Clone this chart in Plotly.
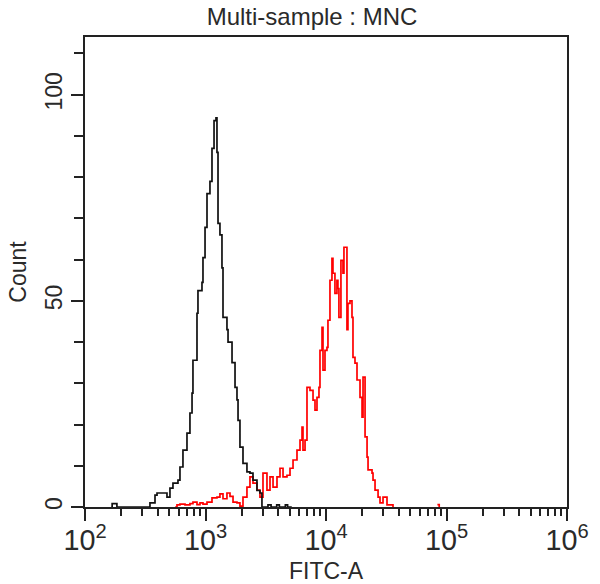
import plotly.graph_objects as go

# Black histogram (unstained / control)
black_x = [165, 168, 184, 330, 346, 381, 396, 461, 479, 507, 537, 591, 614, 650, 702, 743,
           773, 787, 850, 866, 935, 953, 991, 1029, 1089, 1132, 1177, 1222, 1245, 1270,
           1318, 1370, 1397, 1507, 1538, 1660, 1758, 1825, 1862, 1932, 2047, 2208, 2339,
           2478, 2674, 2831, 2941, 3300, 3500, 3900, 4100, 4600, 4800, 5200]
black_y = [0, 0.8, 0, 0, 1.0, 2.9, 3.4, 3.4, 2.4, 4.6, 5.8, 6.5, 9.7, 13.8, 17.9, 22.8,
           27.6, 35.6, 47, 52.5, 54.5, 60.5, 67.8, 76, 79, 87, 93.7, 94.4, 86, 68.8,
           66, 58, 46, 43, 40, 35, 29, 26, 21, 14.5, 10.6, 8.5, 8.2,
           6.5, 4, 3.4, 0, 0.5, 0, 0.5, 0, 0.5, 0, 0]

# Red histogram (stained sample); None marks a gap with no events
red_x = [560, 580, 614, 676, 743, 787, 850, 900, 953, 1029, 1132, 1245, 1318, 1397, 1507,
         1597, 1692, 1825, 1932, 2047, 2208, 2339, 2478, 2674, 2831, 3000, 3237, 3430,
         3634, 3920, 4152, 4399, 4745, 5027, 5326, 5745, 6086, 6324, 6442, 6698, 6954,
         7365, 7803, 8105, 8418, 8743, 8913, 9268, 9442, 9808, 10188, 10382, 10789, 11207,
         11422, 11865, 12325, 12561, 12801, 13303, 13833, 14092, 14646, 14927, 15212,
         15819, 16432, 16747, 17400, 18082, 19155, 19910, 20290, 21090, 21910, 22330,
         24100, 24560, 25520, 27040, 28070, 29730, 32080, 35980, None, 84000, 85000, 87000]
red_y = [0, 0.5, 0.7, 0.5, 0.8, 1.2, 0.6, 1.0, 0.7, 1.2, 2.2, 2.4, 3.2, 2.0, 3.4,
         2.6, 1.2, 1.0, 0.2, 2.4, 4.8, 7.3, 5.8, 4.1, 2.4, 8.2, 4.1, 7.3,
         4.8, 7.3, 9.4, 7.3, 7.7, 9.4, 11.4, 13.8, 16.2, 19.4, 13.8, 16.2, 29,
         28.3, 25.9, 23.5, 26.6, 29, 38, 43.6, 33.2, 38, 38.7, 45.3, 55, 60.3,
         56.7, 51.8, 55, 53, 46, 59.8, 56.7, 63, 63, 43, 49.4,
         50, 46, 36.3, 34.9, 30.8, 26.6, 21.8, 31.5, 17, 12.1, 9,
         8.2, 6.5, 4.1, 2.4, 1.0, 2.4, 0.5, 0, None, 0.6, 0.6, 0]

title_text = "Multi-sample : MNC"
x_label = "FITC-A"
y_label = "Count"

FONT = "Liberation Sans, Arial, sans-serif"
AX = "#222222"
TXT = "#2a2a2a"

fig = go.Figure()
fig.add_trace(go.Scatter(x=red_x, y=red_y, mode="lines", connectgaps=False,
                         line=dict(color="#ff0000", width=1.7, shape="hv"),
                         showlegend=False, hoverinfo="skip"))
fig.add_trace(go.Scatter(x=black_x, y=black_y, mode="lines",
                         line=dict(color="#111111", width=1.7, shape="hv"),
                         showlegend=False, hoverinfo="skip"))

fig.update_layout(
    width=600, height=584,
    margin=dict(l=85, r=33, t=37, b=77),
    paper_bgcolor="white", plot_bgcolor="white",
    font=dict(family=FONT, size=23, color=TXT),
    title=dict(text=title_text, x=312 / 600, xref="container", xanchor="center",
               y=1 - 17 / 584, yref="container", yanchor="middle",
               font=dict(family=FONT, size=24, color=TXT)),
)
fig.update_xaxes(
    type="log", range=[2, 6], dtick=1, exponentformat="power",
    automargin=False,
    showgrid=False, zeroline=False,
    showline=True, linecolor=AX, linewidth=2, mirror=True,
    ticks="outside", ticklen=12, tickwidth=1.5, tickcolor=AX,
    ticklabelstandoff=-4,
    minor=dict(ticks="outside", ticklen=7, tickwidth=1.5, tickcolor=AX, dtick="D1", showgrid=False),
    tickfont=dict(family=FONT, size=23, color=TXT),
    title=dict(text=x_label, standoff=10, font=dict(family=FONT, size=23, color=TXT)),
)
fig.update_yaxes(
    range=[0, 114], dtick=50, tick0=0,
    automargin=False,
    showgrid=False, zeroline=False,
    showline=True, linecolor=AX, linewidth=2, mirror=True,
    ticks="outside", ticklen=12, tickwidth=1.5, tickcolor=AX,
    ticklabelstandoff=0,
    minor=dict(ticks="outside", ticklen=9, tickwidth=1.5, tickcolor=AX, dtick=10, showgrid=False),
    tickangle=-90,
    tickfont=dict(family=FONT, size=23, color=TXT),
    title=dict(text=y_label, standoff=8, font=dict(family=FONT, size=23, color=TXT)),
)

fig.write_html("out.html")
